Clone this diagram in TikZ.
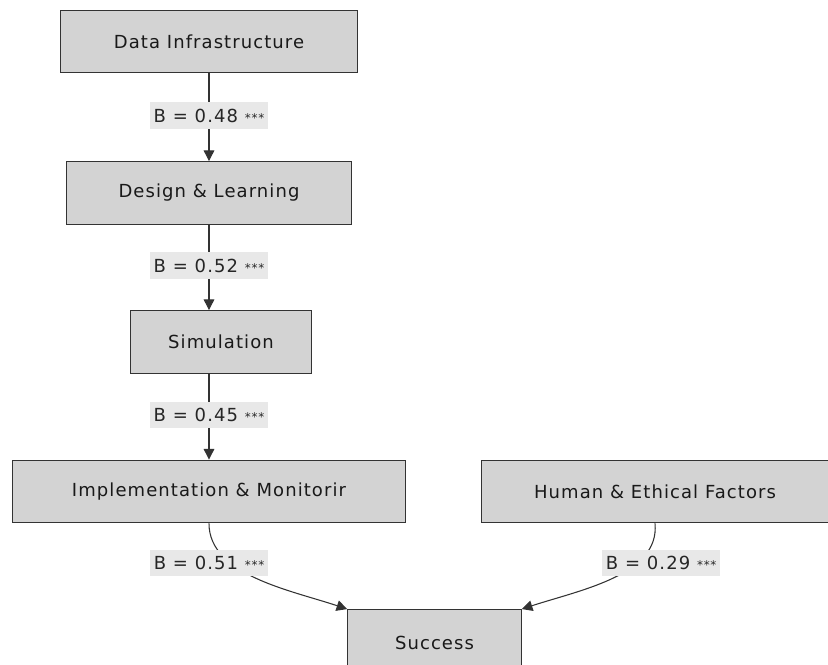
\documentclass[tikz,border=0pt]{standalone}
\usepackage{fontspec}
\setmainfont{DejaVu Sans}[LetterSpace=6]
\usetikzlibrary{arrows.meta}

\definecolor{boxfill}{HTML}{D3D3D3}
\definecolor{boxline}{HTML}{333333}
\definecolor{labelfill}{HTML}{E8E8E8}

\tikzset{
  stage/.style={draw=boxline, fill=boxfill, line width=0.9pt, minimum height=47pt,
    font=\fontsize{13.5}{16}\selectfont, text=black!90},
  coef/.style={fill=labelfill, inner sep=3pt, minimum height=20pt,
    font=\fontsize{13.5}{16}\selectfont, text=black!85},
  link/.style={draw=boxline, line width=0.8pt, -{Triangle[length=8pt,width=8pt]}}
}

\begin{document}
\begin{tikzpicture}[x=0.75pt, y=-0.75pt]

% Frame
\useasboundingbox (0,0) rectangle (828,664);

% Stages of the chain
\node[stage, minimum width=223pt] (infra) at (209,41.5) {Data Infrastructure};
\node[stage, minimum width=214pt] (design) at (209,193) {Design \& Learning};
\node[stage, minimum width=136pt] (sim) at (221,342) {Simulation};
\node[stage, minimum width=295pt] (impl) at (209,491.5) {Implementation \& Monitorir};
\node[stage, minimum width=260pt] (human) at (655,491.5) {Human \& Ethical Factors};
\node[stage, minimum width=130pt, minimum height=50pt] (success) at (434.5,643) {Success};

% Straight links
\draw[link] (infra.south -| 209,0) -- (design.north -| 209,0)
  node[coef, pos=0.48] (c1) {B = 0.48 {\small ***}};
\draw[link] (design.south -| 209,0) -- (sim.north -| 209,0)
  node[coef, pos=0.48] (c2) {B = 0.52 {\small ***}};
\draw[link] (sim.south -| 209,0) -- (impl.north -| 209,0)
  node[coef, pos=0.48] (c3) {B = 0.45 {\small ***}};

% Curved links into success
\draw[link] (impl.south) .. controls (209,575) and (290,590) .. (success.north west)
  node[coef, pos=0.32, xshift=-16pt] (c4) {B = 0.51 {\small ***}};
\draw[link] (human.south) .. controls (660,575) and (580,590) .. (success.north east)
  node[coef, pos=0.32, xshift=18pt] (c5) {B = 0.29 {\small ***}};

\end{tikzpicture}
\end{document}
